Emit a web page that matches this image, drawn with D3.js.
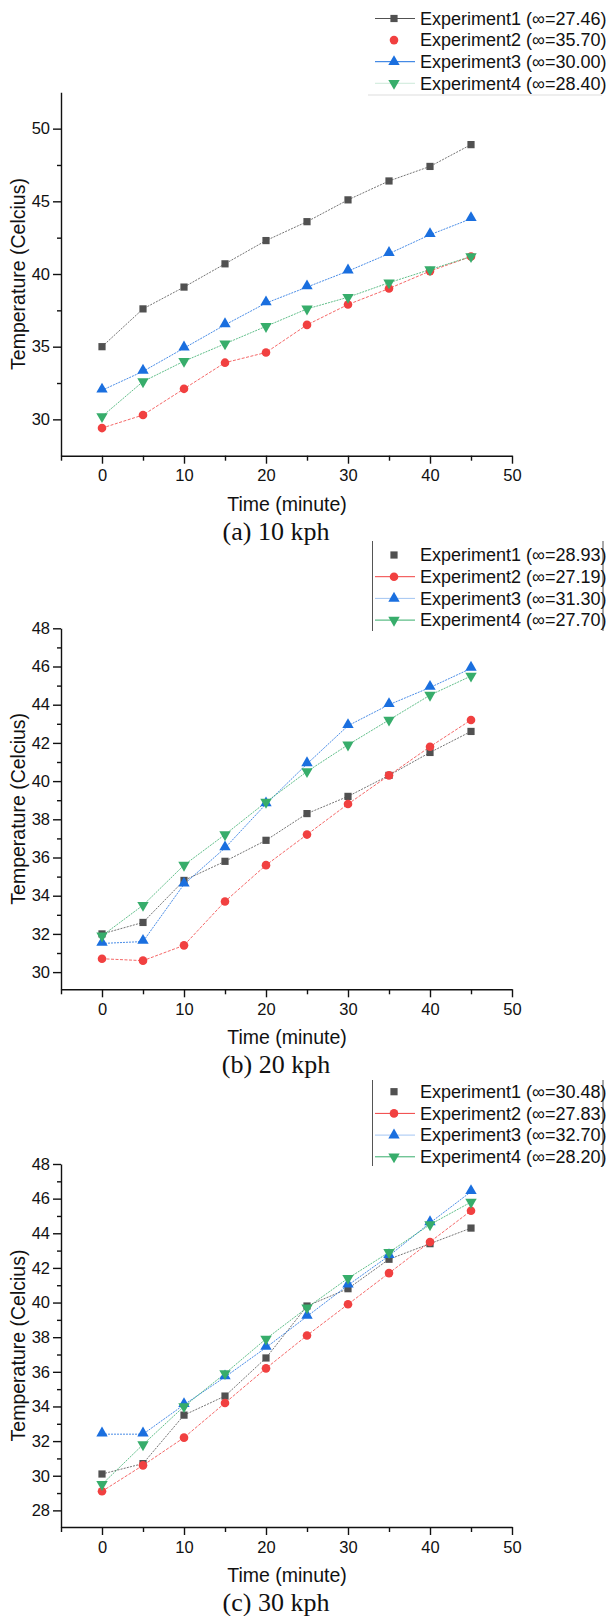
<!DOCTYPE html>
<html>
<head>
<meta charset="utf-8">
<script src="https://cdn.jsdelivr.net/npm/d3@7"></script>
<style>
body { margin: 0; background: #fff; }
text { font-family: "Liberation Sans", Arial, sans-serif; fill: #111; }
.cap { font-family: "Liberation Serif", "Times New Roman", serif; }
</style>
</head>
<body>
<svg id="chart" width="607" height="1616"></svg>
<script>
// time points (minute)
var times = [0, 5, 10, 15, 20, 25, 30, 35, 40, 45];

// (a) 10 kph
var a_exp1 = [35.0, 37.6, 39.1, 40.7, 42.3, 43.6, 45.1, 46.4, 47.4, 48.9];
var a_exp2 = [29.4, 30.3, 32.1, 33.9, 34.6, 36.5, 37.9, 39.0, 40.2, 41.2];
var a_exp3 = [32.0, 33.3, 34.9, 36.5, 38.0, 39.1, 40.2, 41.4, 42.7, 43.8];
var a_exp4 = [30.2, 32.6, 34.0, 35.2, 36.4, 37.6, 38.4, 39.4, 40.3, 41.2];
var a_legend = ["Experiment1 (\u221e=27.46)", "Experiment2 (\u221e=35.70)", "Experiment3 (\u221e=30.00)", "Experiment4 (\u221e=28.40)"];

// (b) 20 kph
var b_exp1 = [32.0, 32.6, 34.8, 35.8, 36.9, 38.3, 39.2, 40.3, 41.5, 42.6];
var b_exp2 = [30.7, 30.6, 31.4, 33.7, 35.6, 37.2, 38.8, 40.3, 41.8, 43.2];
var b_exp3 = [31.5, 31.6, 34.6, 36.5, 38.8, 40.9, 42.9, 44.0, 44.9, 45.9];
var b_exp4 = [31.9, 33.5, 35.6, 37.2, 38.9, 40.5, 41.9, 43.2, 44.5, 45.5];
var b_legend = ["Experiment1 (\u221e=28.93)", "Experiment2 (\u221e=27.19)", "Experiment3 (\u221e=31.30)", "Experiment4 (\u221e=27.70)"];

// (c) 30 kph
var c_exp1 = [30.1, 30.7, 33.5, 34.6, 36.8, 39.8, 40.8, 42.5, 43.4, 44.3];
var c_exp2 = [29.1, 30.6, 32.2, 34.2, 36.2, 38.1, 39.9, 41.7, 43.5, 45.3];
var c_exp3 = [32.4, 32.4, 34.1, 35.7, 37.4, 39.2, 41.0, 42.7, 44.6, 46.4];
var c_exp4 = [29.5, 31.8, 34.0, 35.9, 37.9, 39.7, 41.4, 42.9, 44.5, 45.8];
var c_legend = ["Experiment1 (\u221e=30.48)", "Experiment2 (\u221e=27.83)", "Experiment3 (\u221e=32.70)", "Experiment4 (\u221e=28.20)"];

var captions = ["(a) 10 kph", "(b) 20 kph", "(c) 30 kph"];
var xTicks = [0, 10, 20, 30, 40, 50];
var xMinor = [-5, 5, 15, 25, 35, 45];
var yTicksA = [30, 35, 40, 45, 50];
var yMinorA = [32.5, 37.5, 42.5, 47.5];
var yTicksB = [30, 32, 34, 36, 38, 40, 42, 44, 46, 48];
var yMinorB = [31, 33, 35, 37, 39, 41, 43, 45, 47];
var yTicksC = [28, 30, 32, 34, 36, 38, 40, 42, 44, 46, 48];
var yMinorC = [29, 31, 33, 35, 37, 39, 41, 43, 45, 47];

var colors = ["#515151", "#F14040", "#1A6FDF", "#37AD6B"];
var symbols = [d3.symbolSquare, d3.symbolCircle, d3.symbolTriangle, d3.symbolTriangle];
var symSize = [52, 58, 56, 56];
var dashes = ["2,1.2", "3,1.5", "2,1", "2,1"];

var svg = d3.select("#chart");
var x = d3.scaleLinear().domain([-5, 50]).range([61, 512]);

var panels = [
  { series: [a_exp1, a_exp2, a_exp3, a_exp4], legend: a_legend, yDom: [27.5, 52.5], yRange: [455.7, 92.3],
    yt: yTicksA, ym: yMinorA, legY: 18.5, legStep: 21.6, legLines: [1, 0, 1, 0.25], box: "bottom", boxTop: 0, boxBot: 95 },
  { series: [b_exp1, b_exp2, b_exp3, b_exp4], legend: b_legend, yDom: [29.1, 48], yRange: [989.3, 628.3],
    yt: yTicksB, ym: yMinorB, legY: 555, legStep: 21.7, legLines: [0, 1, 0.4, 1], box: "sides", boxTop: 541, boxBot: 631 },
  { series: [c_exp1, c_exp2, c_exp3, c_exp4], legend: c_legend, yDom: [27.04, 48], yRange: [1527, 1164],
    yt: yTicksC, ym: yMinorC, legY: 1091.7, legStep: 21.7, legLines: [0, 1, 0.4, 1], box: "sides", boxTop: 1080, boxBot: 1166 }
];

panels.forEach(function(p, pi) {
  var y = d3.scaleLinear().domain(p.yDom).range(p.yRange);
  var g = svg.append("g");
  var x0 = x.range()[0], yb = p.yRange[0];

  // lines then markers
  p.series.forEach(function(vals, si) {
    var line = d3.line().x(function(d, i) { return x(times[i]); }).y(function(d) { return y(d); });
    g.append("path").datum(vals).attr("d", line)
      .attr("fill", "none").attr("stroke", colors[si]).attr("stroke-width", 0.8)
      .attr("stroke-dasharray", dashes[si]);
  });
  p.series.forEach(function(vals, si) {
    g.selectAll(null).data(vals).enter().append("path")
      .attr("d", d3.symbol().type(symbols[si]).size(symSize[si]))
      .attr("transform", function(d, i) {
        return "translate(" + x(times[i]) + "," + y(d) + ")" + (si == 3 ? " rotate(180)" : (si == 2 ? " translate(0,-1)" : ""));
      })
      .attr("fill", colors[si]);
  });

  // axes
  g.append("g").attr("transform", "translate(" + x0 + ",0)")
    .call(d3.axisLeft(y).tickValues(p.yt).tickSize(8).tickSizeOuter(0).tickPadding(3));
  g.append("g").attr("transform", "translate(" + x0 + ",0)")
    .call(d3.axisLeft(y).tickValues(p.ym).tickSize(4).tickSizeOuter(0).tickFormat(""))
    .select(".domain").remove();
  g.append("g").attr("transform", "translate(0," + yb + ")")
    .call(d3.axisBottom(x).tickValues(xTicks).tickSize(8).tickSizeOuter(0).tickPadding(6));
  g.append("g").attr("transform", "translate(0," + yb + ")")
    .call(d3.axisBottom(x).tickValues(xMinor).tickSize(5).tickSizeOuter(0).tickFormat(""))
    .select(".domain").remove();
  g.selectAll(".domain, .tick line").attr("stroke", "#111").attr("stroke-width", 1.4);
  g.selectAll(".tick text").attr("font-size", 16.5).attr("fill", "#111");

  // axis titles
  g.append("text").attr("transform", "translate(25," + ((p.yRange[0] + p.yRange[1]) / 2) + ") rotate(-90)")
    .attr("text-anchor", "middle").attr("font-size", 19.5).text("Temperature (Celcius)");
  g.append("text").attr("x", 287).attr("y", yb + 55).attr("text-anchor", "middle")
    .attr("font-size", 19.5).text("Time (minute)");
  g.append("text").attr("class", "cap").attr("x", 276).attr("y", yb + 84).attr("text-anchor", "middle")
    .attr("font-size", 26).text(captions[pi]);

  // legend
  var lg = g.append("g");
  if (p.box == "bottom") {
    lg.append("line").attr("x1", 368).attr("x2", 602).attr("y1", p.boxBot).attr("y2", p.boxBot)
      .attr("stroke", "#ddd").attr("stroke-width", 1.2);
  } else {
    lg.append("line").attr("x1", 372.5).attr("x2", 372.5).attr("y1", p.boxTop).attr("y2", p.boxBot)
      .attr("stroke", "#555").attr("stroke-width", 1);
    lg.append("line").attr("x1", 603).attr("x2", 603).attr("y1", p.boxTop).attr("y2", p.boxBot)
      .attr("stroke", "#555").attr("stroke-width", 1);
  }
  p.legend.forEach(function(label, si) {
    var ly = p.legY + si * p.legStep;
    if (p.legLines[si] > 0) {
      lg.append("line").attr("x1", 375).attr("x2", 415).attr("y1", ly).attr("y2", ly)
        .attr("stroke", colors[si]).attr("stroke-width", 1).attr("stroke-opacity", p.legLines[si]);
    }
    lg.append("path").attr("d", d3.symbol().type(symbols[si]).size(symSize[si]))
      .attr("transform", "translate(394," + ly + ")" + (si == 3 ? " rotate(180)" : ""))
      .attr("fill", colors[si]);
    lg.append("text").attr("x", 420).attr("y", ly).attr("dy", "0.35em")
      .attr("font-size", 18).text(label);
  });
});
</script>
</body>
</html>
